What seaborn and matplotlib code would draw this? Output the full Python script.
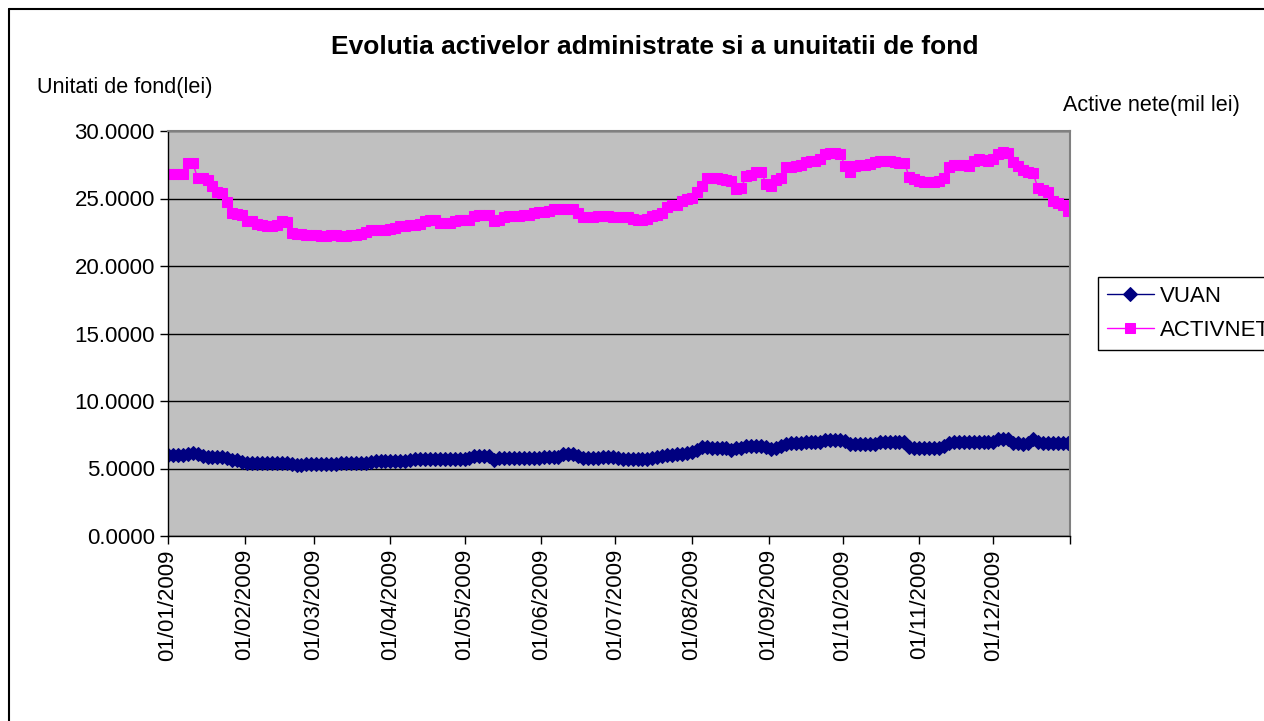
import matplotlib
matplotlib.use("Agg")
import matplotlib.pyplot as plt
from matplotlib.lines import Line2D
from matplotlib.ticker import StrMethodFormatter
import pandas as pd
import seaborn as sns

# valori, un punct la 2 zile (01/01/2009 - 31/12/2009)
dates = pd.date_range("2009-01-01", periods=183, freq="2D")

vuan = [
    6.00, 6.00, 6.00, 6.00, 6.05, 6.15, 6.10, 5.90, 5.87, 5.87,
    5.87, 5.85, 5.80, 5.65, 5.60, 5.45, 5.43, 5.43, 5.43, 5.43,
    5.43, 5.43, 5.43, 5.43, 5.40, 5.30, 5.26, 5.28, 5.33, 5.33,
    5.33, 5.33, 5.33, 5.33, 5.35, 5.40, 5.43, 5.43, 5.43, 5.43,
    5.43, 5.50, 5.56, 5.56, 5.56, 5.56, 5.56, 5.56, 5.58, 5.60,
    5.68, 5.68, 5.68, 5.68, 5.68, 5.68, 5.68, 5.68, 5.68, 5.68,
    5.70, 5.75, 5.90, 5.93, 5.93, 5.93, 5.63, 5.75, 5.75, 5.75,
    5.75, 5.75, 5.75, 5.75, 5.77, 5.80, 5.87, 5.87, 5.87, 5.87,
    6.05, 6.07, 6.07, 5.90, 5.75, 5.75, 5.78, 5.80, 5.83, 5.83,
    5.83, 5.78, 5.68, 5.68, 5.68, 5.68, 5.68, 5.70, 5.75, 5.85,
    5.92, 5.98, 6.02, 6.05, 6.08, 6.12, 6.20, 6.35, 6.62, 6.60,
    6.52, 6.50, 6.50, 6.50, 6.40, 6.50, 6.55, 6.65, 6.67, 6.67,
    6.67, 6.60, 6.45, 6.55, 6.65, 6.85, 6.90, 6.90, 6.92, 6.93,
    6.95, 6.95, 7.00, 7.08, 7.10, 7.10, 7.10, 7.05, 6.85, 6.80,
    6.80, 6.82, 6.80, 6.85, 6.95, 6.98, 6.98, 6.98, 6.98, 6.95,
    6.60, 6.55, 6.55, 6.55, 6.50, 6.50, 6.55, 6.70, 6.90, 6.95,
    6.98, 6.98, 6.98, 7.00, 6.98, 6.98, 6.98, 7.00, 7.20, 7.22,
    7.15, 6.90, 6.86, 6.85, 6.86, 7.15, 6.95, 6.90, 6.90, 6.90,
    6.90, 6.90, 6.92,
]

activnet = [
    26.80, 26.80, 26.80, 26.80, 27.65, 27.65, 26.50, 26.50, 26.40, 25.90,
    25.50, 25.40, 24.75, 23.90, 23.85, 23.80, 23.30, 23.30, 23.10, 23.05,
    22.95, 23.00, 23.05, 23.30, 23.25, 22.45, 22.40, 22.40, 22.30, 22.30,
    22.30, 22.25, 22.25, 22.30, 22.30, 22.25, 22.25, 22.30, 22.30, 22.35,
    22.50, 22.65, 22.70, 22.70, 22.70, 22.75, 22.85, 23.00, 23.00, 23.05,
    23.05, 23.10, 23.35, 23.40, 23.40, 23.20, 23.15, 23.15, 23.35, 23.40,
    23.40, 23.40, 23.70, 23.80, 23.80, 23.75, 23.35, 23.40, 23.65, 23.70,
    23.70, 23.70, 23.75, 23.80, 23.95, 24.00, 24.00, 24.05, 24.20, 24.20,
    24.25, 24.25, 24.20, 23.90, 23.60, 23.60, 23.65, 23.70, 23.70, 23.70,
    23.65, 23.60, 23.60, 23.60, 23.45, 23.40, 23.40, 23.45, 23.70, 23.80,
    23.90, 24.40, 24.50, 24.55, 24.80, 25.00, 25.05, 25.50, 25.90, 26.50,
    26.55, 26.50, 26.45, 26.40, 26.30, 25.70, 25.80, 26.70, 26.75, 26.95,
    27.00, 26.10, 25.95, 26.40, 26.55, 27.30, 27.35, 27.40, 27.50, 27.70,
    27.75, 27.80, 27.90, 28.30, 28.35, 28.35, 28.30, 27.40, 27.00, 27.40,
    27.50, 27.50, 27.55, 27.70, 27.75, 27.80, 27.75, 27.70, 27.65, 27.60,
    26.60, 26.45, 26.30, 26.25, 26.20, 26.20, 26.30, 26.50, 27.30, 27.50,
    27.50, 27.45, 27.40, 27.80, 27.90, 27.85, 27.80, 27.90, 28.30, 28.45,
    28.40, 27.70, 27.40, 27.10, 26.95, 26.90, 25.80, 25.60, 25.50, 24.80,
    24.65, 24.50, 24.10,
]

month_ticks = pd.date_range("2009-01-01", "2009-12-01", freq="MS")
month_labels = [d.strftime("%d/%m/%Y") for d in month_ticks]

df = pd.DataFrame({"data": dates, "VUAN": vuan, "ACTIVNET": activnet})

sns.set_style("white")
plt.rcParams["font.family"] = ["Liberation Sans", "DejaVu Sans"]
plt.rcParams["text.color"] = "black"
plt.rcParams["xtick.color"] = "black"
plt.rcParams["ytick.color"] = "black"

W, H = 1264, 721
fig = plt.figure(figsize=(W / 100, H / 100), dpi=100)
ax = fig.add_axes([168 / W, 1 - 536 / H, (1070 - 168) / W, (536 - 131) / H])
ax.set_facecolor("#C0C0C0")

sns.lineplot(data=df, x="data", y="VUAN", ax=ax, color="#000080", linewidth=1,
             marker="D", markersize=7, markeredgecolor="#000080", label="VUAN")
sns.lineplot(data=df, x="data", y="ACTIVNET", ax=ax, color="#FF00FF", linewidth=1,
             marker="s", markersize=7.5, markeredgecolor="#FF00FF", label="ACTIVNET")

ax.set_ylim(0, 30)
ax.set_yticks(range(0, 31, 5))
ax.yaxis.set_major_formatter(StrMethodFormatter("{x:.4f}"))
ax.yaxis.grid(True, color="black", linewidth=1)
ax.set_axisbelow(True)

ax.set_xlim(pd.Timestamp("2009-01-01"), pd.Timestamp("2010-01-01"))
ax.set_xticks(month_ticks)
ax.set_xticklabels(month_labels, rotation=90)
ax.set_xticks([pd.Timestamp("2010-01-01")], minor=True)
ax.set_xlabel("")
ax.set_ylabel("")

ax.tick_params(axis="both", which="both", direction="out", length=6, width=1,
               color="black", labelcolor="black", labelsize=16, left=True, bottom=True)
for side in ["left", "bottom"]:
    ax.spines[side].set_color("black")
    ax.spines[side].set_linewidth(1)
for side in ["top", "right"]:
    ax.spines[side].set_color("#808080")
    ax.spines[side].set_linewidth(1.5)

fig.text(655 / W, 1 - 47 / H, "Evolutia activelor administrate si a unuitatii de fond",
         ha="center", va="center", fontsize=19, fontweight="bold")
fig.text(37 / W, 1 - 87 / H, "Unitati de fond(lei)", ha="left", va="center", fontsize=15.6)
fig.text(1240 / W, 1 - 105 / H, "Active nete(mil lei)", ha="right", va="center", fontsize=15.6)

leg = ax.legend(loc="upper left", bbox_to_anchor=(1098 / W, 1 - 277 / H),
                bbox_transform=fig.transFigure, borderaxespad=0, fontsize=16,
                frameon=True, fancybox=False, framealpha=1, edgecolor="black",
                handlelength=2.1, handletextpad=0.3, labelspacing=0.6, borderpad=0.4)
leg.get_frame().set_linewidth(1)

# chenarul diagramei
fig.add_artist(Line2D([9 / W, 9 / W], [0, 1 - 9 / H], color="black", lw=1.5,
                      transform=fig.transFigure))
fig.add_artist(Line2D([9 / W, 1], [1 - 9 / H, 1 - 9 / H], color="black", lw=1.5,
                      transform=fig.transFigure))

fig.savefig("out.png", dpi=100)
